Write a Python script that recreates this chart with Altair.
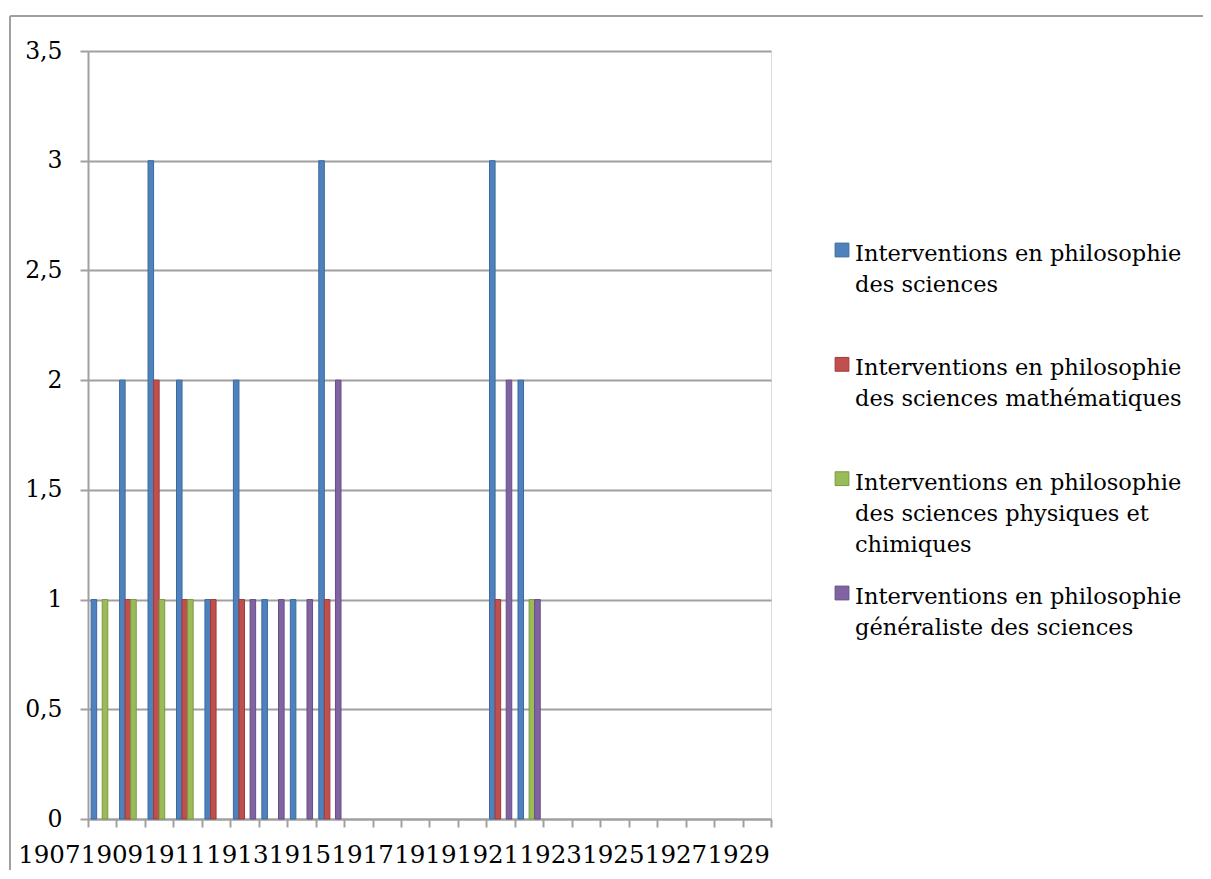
import altair as alt
import pandas as pd
import textwrap

years = ["1907", "1908", "1909", "1910", "1911", "1912", "1913", "1914",
         "1915", "1916", "1917", "1918", "1919", "1920", "1921", "1922",
         "1923", "1924", "1925", "1926", "1927", "1928", "1929", "1930"]

series = [
    "Interventions en philosophie des sciences",
    "Interventions en philosophie des sciences mathématiques",
    "Interventions en philosophie des sciences physiques et chimiques",
    "Interventions en philosophie généraliste des sciences",
]

v_sciences = [1, 2, 3, 2, 1, 2, 1, 1, 3, 0, 0, 0, 0, 0, 3, 2, 0, 0, 0, 0, 0, 0, 0, 0]
v_math     = [0, 1, 2, 1, 1, 1, 0, 0, 1, 0, 0, 0, 0, 0, 1, 0, 0, 0, 0, 0, 0, 0, 0, 0]
v_physchim = [1, 1, 1, 1, 0, 0, 0, 0, 0, 0, 0, 0, 0, 0, 0, 1, 0, 0, 0, 0, 0, 0, 0, 0]
v_general  = [0, 0, 0, 0, 0, 1, 1, 1, 2, 0, 0, 0, 0, 0, 2, 1, 0, 0, 0, 0, 0, 0, 0, 0]

axis_labels = ["1907", "1909", "1911", "1913", "1915", "1917",
               "1919", "1921", "1923", "1925", "1927", "1929"]

y_ticks = [0, 0.5, 1, 1.5, 2, 2.5, 3, 3.5]

fills = ["#4F81BD", "#C0504D", "#9BBB59", "#8064A2"]
strokes = ["#3B6A9E", "#9E3B38", "#7B9A42", "#654E85"]

FONT = "DejaVu Serif"
GRAY = "#A0A0A0"
W, H = 683, 768

rows = []
for s, vals in zip(series, [v_sciences, v_math, v_physchim, v_general]):
    for y, v in zip(years, vals):
        if v > 0:
            rows.append({"year": y, "series": s, "value": v})
bars_df = pd.DataFrame(rows)

legend_df = pd.DataFrame({
    "series": series,
    "wrapped": ["\n".join(textwrap.wrap(s, 28)) for s in series],
})

labels_df = pd.DataFrame({"lab": axis_labels})

color_scale = alt.Scale(domain=series, range=fills)
stroke_scale = alt.Scale(domain=series, range=strokes)

bars = alt.Chart(bars_df).mark_bar(strokeWidth=1).encode(
    x=alt.X("year:N", scale=alt.Scale(domain=years, paddingInner=0, paddingOuter=0),
            axis=alt.Axis(labels=False, title=None, tickBand="extent", tickSize=8,
                          tickColor=GRAY, tickWidth=2, domainColor=GRAY, domainWidth=2,
                          grid=False)),
    xOffset=alt.XOffset("series:N", scale=alt.Scale(domain=series, paddingInner=0, paddingOuter=0.56)),
    y=alt.Y("value:Q", scale=alt.Scale(domain=[0, 3.5], nice=False),
            axis=alt.Axis(values=y_ticks, title=None, tickSize=8, tickColor=GRAY, tickWidth=2,
                          domainColor=GRAY, domainWidth=2, gridColor=GRAY, gridWidth=2,
                          grid=True, labelFont=FONT, labelFontSize=23.5, labelColor="black",
                          labelPadding=18,
                          labelExpr="replace(toString(datum.value), '.', ',')")),
    color=alt.Color("series:N", scale=color_scale, legend=None),
    stroke=alt.Stroke("series:N", scale=stroke_scale, legend=None),
)

xlabels = alt.Chart(labels_df).mark_text(
    font=FONT, fontSize=24.5, align="center", baseline="top", color="black"
).encode(
    x=alt.X("lab:N", scale=alt.Scale(type="band", domain=axis_labels, range=[-70, 682],
                                     paddingInner=0, paddingOuter=0), axis=None),
    y=alt.value(793),
    text="lab:N",
)

leg_y = alt.Y("series:N", scale=alt.Scale(type="point", domain=series, range=[199, 542], padding=0),
              axis=None)

leg_sq = alt.Chart(legend_df).mark_square(size=190, filled=True, opacity=1, strokeWidth=1).encode(
    x=alt.value(754),
    y=leg_y,
    color=alt.Color("series:N", scale=color_scale, legend=None),
    stroke=alt.Stroke("series:N", scale=stroke_scale, legend=None),
)

leg_txt = alt.Chart(legend_df).mark_text(
    font=FONT, fontSize=22.5, align="left", baseline="top", dy=-7,
    lineBreak="\n", lineHeight=31, color="black"
).encode(
    x=alt.value(767),
    y=leg_y,
    text="wrapped:N",
)

frame_df = pd.DataFrame({"k": [0]})
frame_top = alt.Chart(frame_df).mark_rule(color=GRAY, strokeWidth=2).encode(
    x=alt.value(-78), x2=alt.value(1200), y=alt.value(-35))
frame_left = alt.Chart(frame_df).mark_rule(color=GRAY, strokeWidth=2).encode(
    x=alt.value(-78), y=alt.value(-35), y2=alt.value(900))

chart = alt.layer(bars, xlabels, leg_sq, leg_txt, frame_top, frame_left).resolve_scale(
    x="independent", y="independent"
).properties(
    width=W, height=H,
    autosize=alt.AutoSizeParams(type="none"),
    padding={"left": 80, "top": 43, "right": 432, "bottom": 51},
).configure_view(
    fill="#EBEBEB", stroke=None
).configure(background="white")

chart.save("out.html", embed_options={"renderer": "svg", "actions": False})
